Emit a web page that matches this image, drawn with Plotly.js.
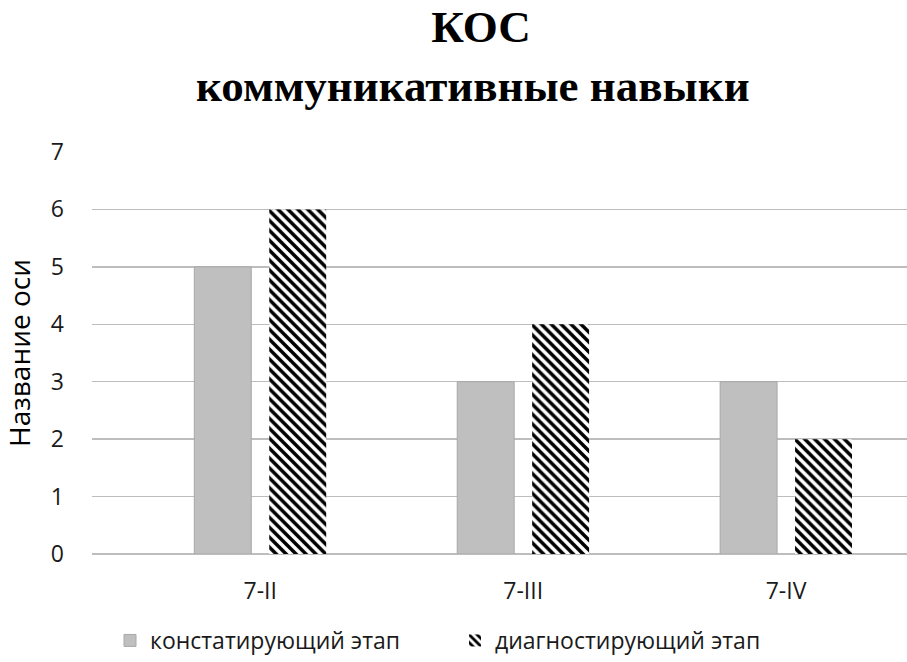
<!DOCTYPE html>
<html>
<head>
<meta charset="utf-8">
<script src="https://cdn.plot.ly/plotly-3.0.1.min.js"></script>
<style>html,body{margin:0;padding:0;background:#fff;}#chart{width:907px;height:662px;}</style>
</head>
<body>
<div id="chart"></div>
<script>
const categories = ["7-II", "7-III", "7-IV"];
const seriesNames = ["констатирующий этап", "диагностирующий этап"];
const constValues = [5, 3, 3];
const diagValues = [6, 4, 2];
const yTicks = [0, 1, 2, 3, 4, 5, 6, 7];
const titleLine1 = "КОС";
const titleLine2 = "коммуникативные навыки";
const yAxisTitle = "Название оси";

const sans = "Open Sans, Liberation Sans, sans-serif";
const serif = "Liberation Serif, Times New Roman, serif";

const traces = [
  {
    type: "bar",
    name: seriesNames[0],
    x: categories,
    y: constValues,
    marker: {color: "#bfbfbf", line: {color: "#a8a8a8", width: 1}},
    hoverinfo: "skip"
  },
  {
    type: "bar",
    name: seriesNames[1],
    x: categories,
    y: diagValues,
    marker: {
      color: "#ffffff",
      line: {width: 0},
      pattern: {shape: "\\", fgcolor: "#000000", bgcolor: "#ffffff", fgopacity: 1, size: 7, solidity: 0.5, fillmode: "replace"}
    },
    hoverinfo: "skip"
  }
];

const layout = {
  width: 907,
  height: 662,
  paper_bgcolor: "#ffffff",
  plot_bgcolor: "#ffffff",
  margin: {l: 92, r: 0, t: 152, b: 107},
  title: {
    text: "<b>" + titleLine1 + "</b>",
    font: {family: serif, size: 45, color: "#000000"},
    x: 481 / 907, xanchor: "center",
    y: 0.984, yanchor: "top"
  },
  annotations: [
    {
      text: "<b>" + titleLine2 + "</b>",
      font: {family: serif, size: 45, color: "#000000"},
      xref: "paper", yref: "paper",
      x: 0.467, xanchor: "center",
      y: 1.098, yanchor: "bottom",
      showarrow: false
    }
  ],
  barmode: "group",
  bargap: 0.43,
  bargroupgap: 0.24,
  xaxis: {
    type: "category",
    range: [-0.64, 2.46],
    showgrid: false,
    zeroline: false,
    showline: false,
    ticks: "",
    automargin: false,
    ticklabelstandoff: 21,
    tickfont: {family: sans, size: 23, color: "#1a1a1a"},
    fixedrange: true
  },
  yaxis: {
    range: [0, 7],
    tickvals: yTicks,
    ticktext: yTicks.map(String),
    showgrid: true,
    gridcolor: "#bdbdbd",
    gridwidth: 1.3,
    zeroline: true,
    zerolinecolor: "#bdbdbd",
    zerolinewidth: 1.3,
    showline: false,
    ticks: "",
    automargin: false,
    ticklabelstandoff: 27,
    tickfont: {family: sans, size: 23, color: "#1a1a1a"},
    title: {text: yAxisTitle, font: {family: sans, size: 28, color: "#000"}, standoff: 15},
    fixedrange: true
  },
  showlegend: true,
  legend: {
    orientation: "h",
    x: (110 - 92) / 815, xanchor: "left",
    y: -0.162, yanchor: "top",
    font: {family: sans, size: 23, color: "#1a1a1a"},
    entrywidth: 300,
    entrywidthmode: "pixels",
    traceorder: "normal"
  }
};

Plotly.newPlot("chart", traces, layout, {displayModeBar: false, staticPlot: true});
</script>
</body>
</html>
